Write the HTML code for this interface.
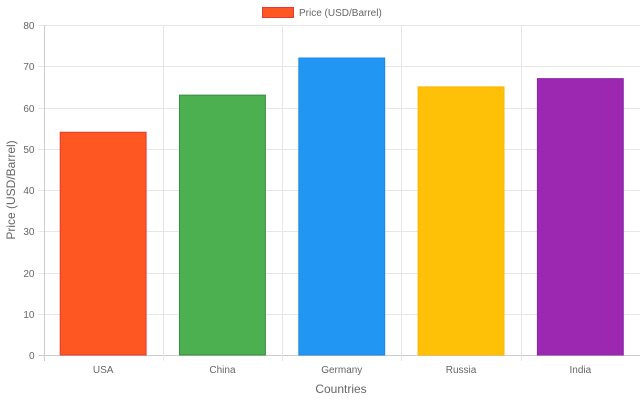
<!DOCTYPE html>
<html><head><meta charset="utf-8"><style>
body{margin:0;background:#fff}
svg{display:block;font-family:"Liberation Sans",Arial,sans-serif}
</style></head><body>
<svg id="chart" width="640" height="400">
<g id="grid"></g>
<g id="bars"></g>
<g id="labels"></g>
<g>
<rect x="262.5" y="7.5" width="31" height="10" fill="#FF5722" stroke="#E53935" stroke-width="1"/>
<text x="299" y="16" font-size="10" fill="#666">Price (USD/Barrel)</text>
</g>
<text x="341" y="393" font-size="12" fill="#666" text-anchor="middle">Countries</text>
<text transform="translate(15,190) rotate(-90)" font-size="12" fill="#666" text-anchor="middle">Price (USD/Barrel)</text>
</svg>
<script>
const categories = ["USA","China","Germany","Russia","India"];
const values = [54,63,72,65,67];
const yTicks = [0,10,20,30,40,50,60,70,80];
const fills = ["#FF5722","#4CAF50","#2196F3","#FFC107","#9C27B0"];
const strokes = ["#E53935","#388E3C","#1E88E5","#FFB300","#8E24AA"];
const NS="http://www.w3.org/2000/svg";
const L=43.5,R=640,T=25,B=355,yMax=80;
const cw=(R-L)/categories.length;
const y=v=>B-(v/yMax)*(B-T);
const x=i=>L+i*cw;
function mk(tag,attrs,parent){const e=document.createElementNS(NS,tag);for(const k in attrs)e.setAttribute(k,attrs[k]);parent.appendChild(e);return e;}
const grid=document.getElementById('grid'),bars=document.getElementById('bars'),labels=document.getElementById('labels');
yTicks.forEach(t=>{
  const yy=Math.round(y(t))+0.5;
  const ln=mk('line',{x1:L-5,x2:R,y1:yy,y2:yy,stroke:t===0?'#ccc':'#e6e6e6','stroke-width':1},grid);
  
  
  const tx=mk('text',{x:L-9,y:yy+3.5,'font-size':10,fill:'#666','text-anchor':'end'},labels);
  tx.textContent=t;
  
  
});
for(let i=0;i<=categories.length;i++){
  const xx=Math.round(x(i))+0.5;
  const ln=mk('line',{x1:xx,x2:xx,y1:T,y2:B+6,stroke:i===0?'#ccc':'#e6e6e6','stroke-width':1},grid);
  
  
}
categories.forEach((c,i)=>{
  const bw=cw*0.72;
  const bx=x(i)+(cw-bw)/2;
  const r=mk('rect',{x:bx,y:y(values[i]),width:bw,height:B-y(values[i]),fill:fills[i],stroke:strokes[i],'stroke-width':1},bars);
  
  
  const tx=mk('text',{x:x(i)+cw/2,y:373,'font-size':10,fill:'#666','text-anchor':'middle'},labels);
  tx.textContent=c;
  
  
});
</script>
</body></html>
